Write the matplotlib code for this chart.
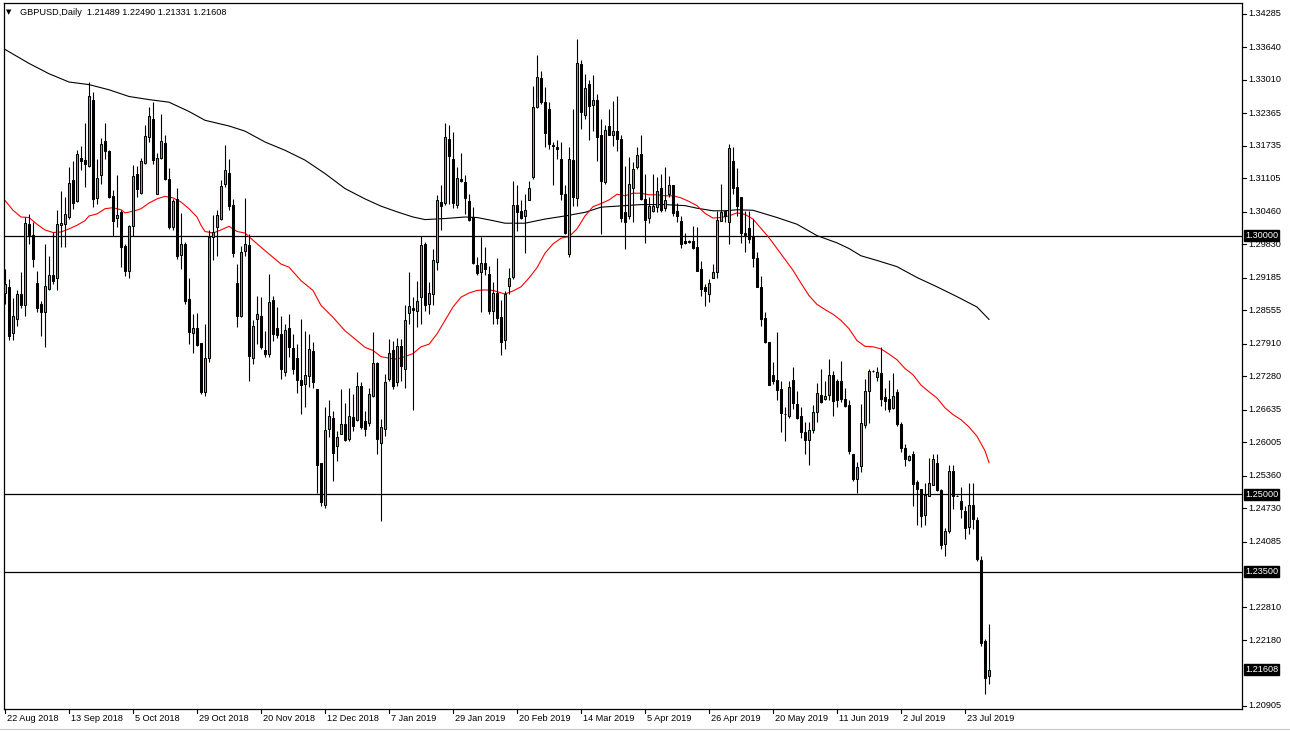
import matplotlib.pyplot as plt

# GBPUSD daily candles, 22 Aug 2018 .. 1 Aug 2019
opens = [
    1.2890, 1.2901, 1.2811, 1.2839, 1.2888, 1.2866, 1.3022, 1.3002, 1.2909, 1.2868,
    1.2852, 1.2896, 1.2924, 1.2918, 1.3020, 1.3023, 1.3036, 1.3107, 1.3067, 1.3151,
    1.3146, 1.3135, 1.3262, 1.3073, 1.3118, 1.3182, 1.3163, 1.3076, 1.3034, 1.3045,
    1.2980, 1.2932, 1.3018, 1.3120, 1.3082, 1.3141, 1.3191, 1.3225, 1.3081, 1.3151,
    1.3179, 1.3110, 1.3016, 1.3071, 1.2963, 1.2984, 1.2877, 1.2812, 1.2821, 1.2792,
    1.2697, 1.2763, 1.2997, 1.3016, 1.3032, 1.3099, 1.3122, 1.3060, 1.2909, 1.2844,
    1.2970, 1.2981, 1.2763, 1.2839, 1.2845, 1.2779, 1.2771, 1.2876, 1.2821, 1.2809,
    1.2737, 1.2821, 1.2783, 1.2763, 1.2721, 1.2714, 1.2729, 1.2777, 1.2703, 1.2561,
    1.2480, 1.2627, 1.2648, 1.2593, 1.2617, 1.2635, 1.2606, 1.2650, 1.2643, 1.2710,
    1.2642, 1.2637, 1.2690, 1.2754, 1.2599, 1.2626, 1.2723, 1.2779, 1.2716, 1.2787,
    1.2742, 1.2850, 1.2860, 1.2854, 1.2881, 1.2984, 1.2868, 1.2887, 1.2949, 1.3065,
    1.3063, 1.3186, 1.3149, 1.3060, 1.3110, 1.3104, 1.3066, 1.3036, 1.2944, 1.2929,
    1.2947, 1.2925, 1.2855, 1.2890, 1.2843, 1.2799, 1.2903, 1.2920, 1.3060, 1.3048,
    1.3037, 1.3069, 1.3113, 1.3248, 1.3305, 1.3259, 1.3245, 1.3176, 1.3172, 1.3148,
    1.3080, 1.2965, 1.3147, 1.3073, 1.3332, 1.3234, 1.3294, 1.3252, 1.3263, 1.3194,
    1.3103, 1.3212, 1.3195, 1.3203, 1.3187, 1.3045, 1.3037, 1.3093, 1.3132, 1.3157,
    1.3071, 1.3035, 1.3048, 1.3055, 1.3092, 1.3053, 1.3080, 1.3097, 1.3047, 1.3029,
    1.2989, 1.2990, 1.2990, 1.2978, 1.2935, 1.2901, 1.2887, 1.2919, 1.2929, 1.3029,
    1.3048, 1.3026, 1.3145, 1.3094, 1.3074, 1.3005, 1.3014, 1.3000, 1.2956, 1.2901,
    1.2841, 1.2795, 1.2731, 1.2721, 1.2704, 1.2656, 1.2651, 1.2721, 1.2674, 1.2651,
    1.2621, 1.2604, 1.2625, 1.2659, 1.2692, 1.2684, 1.2692, 1.2731, 1.2719, 1.2719,
    1.2685, 1.2672, 1.2577, 1.2529, 1.2554, 1.2633, 1.2699, 1.2739, 1.2727, 1.2734,
    1.2688, 1.2685, 1.2667, 1.2697, 1.2636, 1.2590, 1.2567, 1.2578, 1.2523, 1.2511,
    1.2459, 1.2497, 1.2517, 1.2561, 1.2508, 1.2403, 1.2428, 1.2545, 1.2497, 1.2487,
    1.2468, 1.2436, 1.2480, 1.2450, 1.2373, 1.2216, 1.21489,
]
highs = [
    1.2936, 1.2916, 1.2879, 1.2895, 1.2930, 1.3036, 1.3042, 1.3026, 1.2932, 1.2874,
    1.2984, 1.2961, 1.3007, 1.3050, 1.3087, 1.3075, 1.3133, 1.3144, 1.3165, 1.3173,
    1.3217, 1.3297, 1.3278, 1.3149, 1.3188, 1.3218, 1.3166, 1.3089, 1.3117, 1.3049,
    1.2984, 1.3020, 1.3136, 1.3134, 1.3151, 1.3213, 1.3248, 1.3258, 1.3159, 1.3236,
    1.3194, 1.3131, 1.3071, 1.3093, 1.3044, 1.2987, 1.2918, 1.2848, 1.2850, 1.2793,
    1.2829, 1.3010, 1.3039, 1.3049, 1.3107, 1.3175, 1.3149, 1.3071, 1.2945, 1.2979,
    1.3073, 1.3003, 1.2836, 1.2884, 1.2881, 1.2816, 1.2926, 1.2884, 1.2862, 1.2845,
    1.2829, 1.2849, 1.2810, 1.2790, 1.2839, 1.2816, 1.2810, 1.2794, 1.2703, 1.2561,
    1.2669, 1.2682, 1.2661, 1.2622, 1.2703, 1.2677, 1.2706, 1.2694, 1.2737, 1.2716,
    1.2661, 1.2706, 1.2814, 1.2755, 1.2645, 1.2732, 1.2800, 1.2797, 1.2802, 1.2800,
    1.2865, 1.2929, 1.2881, 1.2913, 1.3000, 1.2987, 1.2910, 1.2974, 1.3078, 1.3097,
    1.3218, 1.3214, 1.3201, 1.3133, 1.3160, 1.3117, 1.3081, 1.3055, 1.2958, 1.2997,
    1.2978, 1.2942, 1.2910, 1.2956, 1.2875, 1.2893, 1.2938, 1.3106, 1.3097, 1.3068,
    1.3080, 1.3106, 1.3289, 1.3350, 1.3319, 1.3287, 1.3258, 1.3181, 1.3184, 1.3181,
    1.3097, 1.3171, 1.3245, 1.3381, 1.3340, 1.3313, 1.3300, 1.3310, 1.3274, 1.3226,
    1.3213, 1.3245, 1.3261, 1.3269, 1.3194, 1.3135, 1.3152, 1.3143, 1.3171, 1.3195,
    1.3119, 1.3074, 1.3119, 1.3113, 1.3119, 1.3132, 1.3116, 1.3097, 1.3064, 1.3038,
    1.3006, 1.2991, 1.3019, 1.3017, 1.2951, 1.2906, 1.2916, 1.2945, 1.3048, 1.3100,
    1.3049, 1.3177, 1.3171, 1.3130, 1.3075, 1.3048, 1.3048, 1.3032, 1.2968, 1.2922,
    1.2852, 1.2795, 1.2755, 1.2813, 1.2718, 1.2669, 1.2718, 1.2746, 1.2700, 1.2669,
    1.2639, 1.2640, 1.2672, 1.2715, 1.2743, 1.2718, 1.2762, 1.2739, 1.2722, 1.2757,
    1.2705, 1.2683, 1.2577, 1.2563, 1.2674, 1.2722, 1.2743, 1.2741, 1.2746, 1.2784,
    1.2706, 1.2721, 1.2734, 1.2704, 1.2640, 1.2598, 1.2575, 1.2584, 1.2528, 1.2511,
    1.2522, 1.2570, 1.2577, 1.2577, 1.2510, 1.2435, 1.2556, 1.2556, 1.2499, 1.2514,
    1.2478, 1.2521, 1.2521, 1.2456, 1.2381, 1.2221, 1.22490,
]
lows = [
    1.2868, 1.2798, 1.2798, 1.2826, 1.2860, 1.2844, 1.2984, 1.2940, 1.2852, 1.2806,
    1.2784, 1.2894, 1.2907, 1.2894, 1.2978, 1.2978, 1.3033, 1.3052, 1.3065, 1.3126,
    1.3094, 1.3133, 1.3055, 1.3062, 1.3100, 1.3149, 1.3073, 1.3000, 1.3016, 1.2939,
    1.2921, 1.2919, 1.3000, 1.3075, 1.3081, 1.3139, 1.3181, 1.3139, 1.3080, 1.3149,
    1.3107, 1.3013, 1.3010, 1.2955, 1.2936, 1.2868, 1.2790, 1.2774, 1.2787, 1.2693,
    1.2690, 1.2755, 1.2952, 1.2961, 1.3031, 1.3094, 1.3049, 1.2958, 1.2824, 1.2842,
    1.2961, 1.2719, 1.2752, 1.2790, 1.2781, 1.2765, 1.2765, 1.2797, 1.2803, 1.2723,
    1.2729, 1.2765, 1.2732, 1.2695, 1.2655, 1.2668, 1.2708, 1.2706, 1.2503, 1.2477,
    1.2473, 1.2610, 1.2526, 1.2564, 1.2616, 1.2603, 1.2603, 1.2622, 1.2641, 1.2626,
    1.2613, 1.2632, 1.2688, 1.2577, 1.2449, 1.2613, 1.2719, 1.2703, 1.2710, 1.2719,
    1.2706, 1.2829, 1.2662, 1.2823, 1.2829, 1.2854, 1.2849, 1.2865, 1.2933, 1.3010,
    1.3060, 1.3062, 1.3054, 1.3054, 1.3104, 1.3042, 1.3029, 1.2945, 1.2923, 1.2852,
    1.2923, 1.2849, 1.2830, 1.2829, 1.2770, 1.2780, 1.2887, 1.2916, 1.3009, 1.3032,
    1.2966, 1.3068, 1.3110, 1.3247, 1.3255, 1.3171, 1.3168, 1.3097, 1.3148, 1.3068,
    1.3003, 1.2958, 1.3058, 1.3058, 1.3206, 1.3226, 1.3184, 1.3203, 1.3145, 1.3003,
    1.3100, 1.3194, 1.3174, 1.3164, 1.3026, 1.2974, 1.3032, 1.3026, 1.3129, 1.3068,
    1.2986, 1.3024, 1.3045, 1.3045, 1.3045, 1.3048, 1.3074, 1.3038, 1.3026, 1.2977,
    1.2984, 1.2986, 1.2974, 1.2932, 1.2883, 1.2863, 1.2871, 1.2919, 1.2919, 1.3029,
    1.3026, 1.2984, 1.3080, 1.3037, 1.2986, 1.2968, 1.2986, 1.2940, 1.2900, 1.2826,
    1.2792, 1.2711, 1.2713, 1.2683, 1.2621, 1.2602, 1.2648, 1.2665, 1.2646, 1.2609,
    1.2577, 1.2556, 1.2619, 1.2639, 1.2676, 1.2683, 1.2683, 1.2651, 1.2669, 1.2679,
    1.2669, 1.2577, 1.2526, 1.2503, 1.2542, 1.2628, 1.2637, 1.2736, 1.2718, 1.2671,
    1.2662, 1.2658, 1.2665, 1.2632, 1.2582, 1.2554, 1.2565, 1.2478, 1.2440, 1.2436,
    1.2440, 1.2496, 1.2517, 1.2506, 1.2394, 1.2380, 1.2425, 1.2471, 1.2496, 1.2454,
    1.2414, 1.2423, 1.2432, 1.2371, 1.2207, 1.2113, 1.21331,
]
closes = [
    1.2907, 1.2805, 1.2845, 1.2887, 1.2866, 1.3025, 1.3002, 1.2955, 1.2861, 1.2852,
    1.2903, 1.2924, 1.2913, 1.3023, 1.3025, 1.3041, 1.3102, 1.3063, 1.3157, 1.3144,
    1.3138, 1.3269, 1.3071, 1.3112, 1.3177, 1.3164, 1.3075, 1.3028, 1.3039, 1.2978,
    1.2932, 1.3018, 1.3115, 1.3091, 1.3144, 1.3192, 1.3231, 1.3146, 1.3151, 1.3182,
    1.3109, 1.3016, 1.3066, 1.2960, 1.2983, 1.2873, 1.2813, 1.2821, 1.2789, 1.2697,
    1.2764, 1.2997, 1.3007, 1.3040, 1.3095, 1.3126, 1.3058, 1.2966, 1.2845, 1.2969,
    1.2983, 1.2768, 1.2826, 1.2849, 1.2784, 1.2772, 1.2872, 1.2810, 1.2807, 1.2742,
    1.2818, 1.2785, 1.2742, 1.2721, 1.2712, 1.2730, 1.2781, 1.2717, 1.2556, 1.2484,
    1.2624, 1.2651, 1.2579, 1.2611, 1.2635, 1.2605, 1.2651, 1.2632, 1.2710, 1.2629,
    1.2626, 1.2694, 1.2754, 1.2606, 1.2629, 1.2717, 1.2774, 1.2710, 1.2786, 1.2747,
    1.2837, 1.2863, 1.2857, 1.2874, 1.2981, 1.2865, 1.2889, 1.2952, 1.3068, 1.3058,
    1.3190, 1.3153, 1.3063, 1.3112, 1.3106, 1.3073, 1.3031, 1.2947, 1.2927, 1.2947,
    1.2936, 1.2855, 1.2889, 1.2841, 1.2795, 1.2887, 1.2919, 1.3060, 1.3045, 1.3035,
    1.3049, 1.3092, 1.3248, 1.3307, 1.3258, 1.3198, 1.3177, 1.3174, 1.3168, 1.3080,
    1.3006, 1.3148, 1.3074, 1.3334, 1.3239, 1.3286, 1.3250, 1.3263, 1.3190, 1.3105,
    1.3204, 1.3195, 1.3203, 1.3186, 1.3035, 1.3026, 1.3100, 1.3129, 1.3155, 1.3071,
    1.3030, 1.3058, 1.3057, 1.3087, 1.3049, 1.3068, 1.3097, 1.3043, 1.3038, 1.2984,
    1.2986, 1.2987, 1.2976, 1.2932, 1.2896, 1.2893, 1.2909, 1.2929, 1.3030, 1.3046,
    1.3038, 1.3170, 1.3092, 1.3058, 1.3005, 1.3001, 1.2993, 1.2956, 1.2901, 1.2839,
    1.2794, 1.2711, 1.2719, 1.2702, 1.2657, 1.2655, 1.2707, 1.2676, 1.2648, 1.2621,
    1.2604, 1.2624, 1.2659, 1.2695, 1.2678, 1.2690, 1.2731, 1.2681, 1.2683, 1.2684,
    1.2671, 1.2583, 1.2529, 1.2552, 1.2638, 1.2700, 1.2739, 1.2738, 1.2737, 1.2684,
    1.2681, 1.2665, 1.2690, 1.2635, 1.2589, 1.2569, 1.2574, 1.2519, 1.2511, 1.2457,
    1.2499, 1.2522, 1.2568, 1.2509, 1.2401, 1.2429, 1.2545, 1.2496, 1.2497, 1.2471,
    1.2434, 1.2480, 1.2452, 1.2374, 1.2212, 1.2145, 1.21608,
]

# moving averages (bar index, value)
ma50_idx = [0, 2, 4, 6, 8, 10, 12, 14, 16, 18, 20, 21, 23, 25, 27, 29, 30, 32, 34, 36,
            38, 40, 42, 44, 46, 48, 49, 50, 52, 54, 56, 58, 60, 62, 65, 69, 71, 74, 77, 79,
            82, 85, 88, 90, 92, 94, 96, 98, 100, 102, 104, 106, 108, 110, 112, 114, 116, 118, 120, 122,
            125, 127, 129, 131, 133, 135, 137, 139, 141, 143, 145, 147, 149, 151, 153, 155, 157, 159, 161, 163,
            165, 167, 169, 171, 173, 175, 177, 179, 181, 183, 185, 187, 189, 191, 193, 195, 197, 199, 201, 203,
            205, 207, 209, 211, 213, 215, 217, 219, 221, 223, 225, 227, 229, 231, 233, 235, 237, 239, 241, 243,
            245, 246]
ma50_val = [1.3068, 1.3049, 1.3036, 1.3035, 1.3022, 1.3011, 1.3006, 1.3007, 1.3013, 1.3020,
            1.3029, 1.3038, 1.3042, 1.3052, 1.3054, 1.3050, 1.3044, 1.3047, 1.3052, 1.3063,
            1.3071, 1.3076, 1.3073, 1.3065, 1.3052, 1.3036, 1.3020, 1.3008, 1.3005, 1.3011,
            1.3018, 1.3008, 1.3005, 1.2991, 1.2971, 1.2945, 1.2939, 1.2913, 1.2894, 1.2865,
            1.2842, 1.2816, 1.2797, 1.2784, 1.2778, 1.2766, 1.2763, 1.2761, 1.2766, 1.2772,
            1.2785, 1.2790, 1.2810, 1.2836, 1.2862, 1.2881, 1.2889, 1.2894, 1.2895, 1.2894,
            1.2887, 1.2893, 1.2901, 1.2918, 1.2938, 1.2966, 1.2984, 1.2995, 1.2998, 1.3013,
            1.3038, 1.3056, 1.3062, 1.3069, 1.3080, 1.3077, 1.3082, 1.3082, 1.3079, 1.3079,
            1.3077, 1.3077, 1.3073, 1.3066, 1.3058, 1.3043, 1.3034, 1.3035, 1.3038, 1.3044,
            1.3041, 1.3032, 1.3014, 1.2996, 1.2975, 1.2954, 1.2933, 1.2908, 1.2884, 1.2867,
            1.2857, 1.2848, 1.2836, 1.2820, 1.2797, 1.2786, 1.2785, 1.2781, 1.2771, 1.2760,
            1.2743, 1.2731, 1.2711, 1.2698, 1.2686, 1.2667, 1.2654, 1.2644, 1.2630, 1.2612,
            1.2584, 1.2561]

ma200_idx = [0, 6, 11, 16, 21, 26, 31, 36, 41, 46, 50, 56, 60, 65, 70, 75, 80, 85, 90, 94,
             98, 102, 105, 110, 115, 118, 122, 125, 130, 135, 140, 145, 149, 155, 159, 165, 170, 173, 177, 180,
             183, 187, 193, 198, 203, 208, 211, 214, 218, 223, 228, 233, 238, 243, 246]
ma200_val = [1.3360, 1.3333, 1.3313, 1.3297, 1.3292, 1.3282, 1.3269, 1.3263, 1.3258, 1.3240,
             1.3223, 1.3212, 1.3202, 1.3181, 1.3165, 1.3146, 1.3120, 1.3091, 1.3071, 1.3057,
             1.3046, 1.3036, 1.3031, 1.3033, 1.3036, 1.3035, 1.3029, 1.3024, 1.3024, 1.3032,
             1.3038, 1.3045, 1.3055, 1.3058, 1.3060, 1.3060, 1.3058, 1.3053, 1.3048, 1.3048,
             1.3050, 1.3049, 1.3035, 1.3022, 1.3000, 1.2986, 1.2975, 1.2961, 1.2952, 1.2940,
             1.2919, 1.2901, 1.2882, 1.2862, 1.2838]

levels = [1.30, 1.25, 1.235]
price_ticks = [1.34285, 1.33640, 1.33010, 1.32365, 1.31735, 1.31105, 1.30460, 1.29830,
               1.29185, 1.28555, 1.27910, 1.27280, 1.26635, 1.26005, 1.25360, 1.24730,
               1.24085, 1.22810, 1.22180, 1.20905]
date_idx = [0, 16, 32, 48, 64, 80, 96, 112, 128, 144, 160, 176, 192, 208, 224, 240]
date_labels = ['22 Aug 2018', '13 Sep 2018', '5 Oct 2018', '29 Oct 2018', '20 Nov 2018',
               '12 Dec 2018', '7 Jan 2019', '29 Jan 2019', '20 Feb 2019', '14 Mar 2019',
               '5 Apr 2019', '26 Apr 2019', '20 May 2019', '11 Jun 2019', '2 Jul 2019',
               '23 Jul 2019']
header = 'GBPUSD,Daily  1.21489 1.22490 1.21331 1.21608'

W, H = 1290, 732
FONT = ['Liberation Sans', 'DejaVu Sans']
fig = plt.figure(figsize=(W / 100, H / 100), dpi=100)
fig.patch.set_facecolor('white')

# plot frame in pixel terms
left_px, right_px, top_px, bot_px = 3.5, 1242, 3, 709
ax = fig.add_axes([left_px / W, 1 - bot_px / H, (right_px - left_px) / W, (bot_px - top_px) / H])
ax.set_facecolor('white')

px_per_unit = (706 - 14) / (1.34285 - 1.20905)
ax.set_ylim(1.20905 - 3 / px_per_unit, 1.34285 + 11 / px_per_unit)
ax.set_xlim(-0.375, 309.25)

# levels
for lv in levels:
    ax.axhline(lv, color='black', lw=0.9, zorder=1)

# moving averages
ax.plot(ma200_idx, ma200_val, color='black', lw=0.8, zorder=2)
ax.plot(ma50_idx, ma50_val, color='red', lw=0.8, zorder=2)

# candles
xs = list(range(len(opens)))
ax.vlines(xs, lows, highs, color='black', lw=0.8, zorder=3)
bull = [i for i in xs if closes[i] >= opens[i]]
bear = [i for i in xs if closes[i] < opens[i]]
ax.bar(bull, [closes[i] - opens[i] for i in bull], bottom=[opens[i] for i in bull],
       width=0.5, color='#00ff00', edgecolor='black', linewidth=0.75, zorder=4)
ax.bar(bear, [opens[i] - closes[i] for i in bear], bottom=[closes[i] for i in bear],
       width=0.5, color='black', edgecolor='black', linewidth=0.75, zorder=4)

# axes styling
for s in ax.spines.values():
    s.set_color('black')
    s.set_linewidth(0.9)
ax.set_xticks([])
ax.set_yticks([])

# right price scale
trans_y = ax.get_yaxis_transform()
for p in price_ticks:
    ax.plot([1.0, 1.0 + 4 / (right_px - left_px)], [p, p], transform=trans_y, color='black',
            lw=0.8, clip_on=False)
    ax.text(1.0 + 6 / (right_px - left_px), p, f'{p:.5f}', transform=trans_y, ha='left',
            va='center', fontsize=6.6, family=FONT, color='black')

boxed = levels + [closes[-1]]
for p in boxed:
    ax.text(1.0 + 3 / (right_px - left_px), p, f'{p:.5f}', transform=trans_y, ha='left',
            va='center', fontsize=6.6, family=FONT, color='white', zorder=10,
            bbox=dict(boxstyle='square,pad=0.12', facecolor='black', edgecolor='black'))

# date scale
trans_x = ax.get_xaxis_transform()
for i, lab in zip(date_idx, date_labels):
    ax.plot([i, i], [0, -4 / (bot_px - top_px)], transform=trans_x, color='black', lw=0.8,
            clip_on=False)
    ax.text(i + 0.4, -9.5 / (bot_px - top_px), lab, transform=trans_x, ha='left', va='center',
            fontsize=6.6, family=FONT, color='black')

# header
fig.text(6 / W, 1 - 12 / H, '\u25bc', fontsize=5, family='DejaVu Sans', va='center', ha='left')
fig.text(20 / W, 1 - 12.5 / H, header, fontsize=6.6, family=FONT, va='center', ha='left')

# light window frame at the bottom
fig.add_artist(plt.Line2D([0, 1], [1 - 728.5 / H, 1 - 728.5 / H], color='#c8c8c8', lw=0.8))

fig.savefig('out.png', dpi=100)
